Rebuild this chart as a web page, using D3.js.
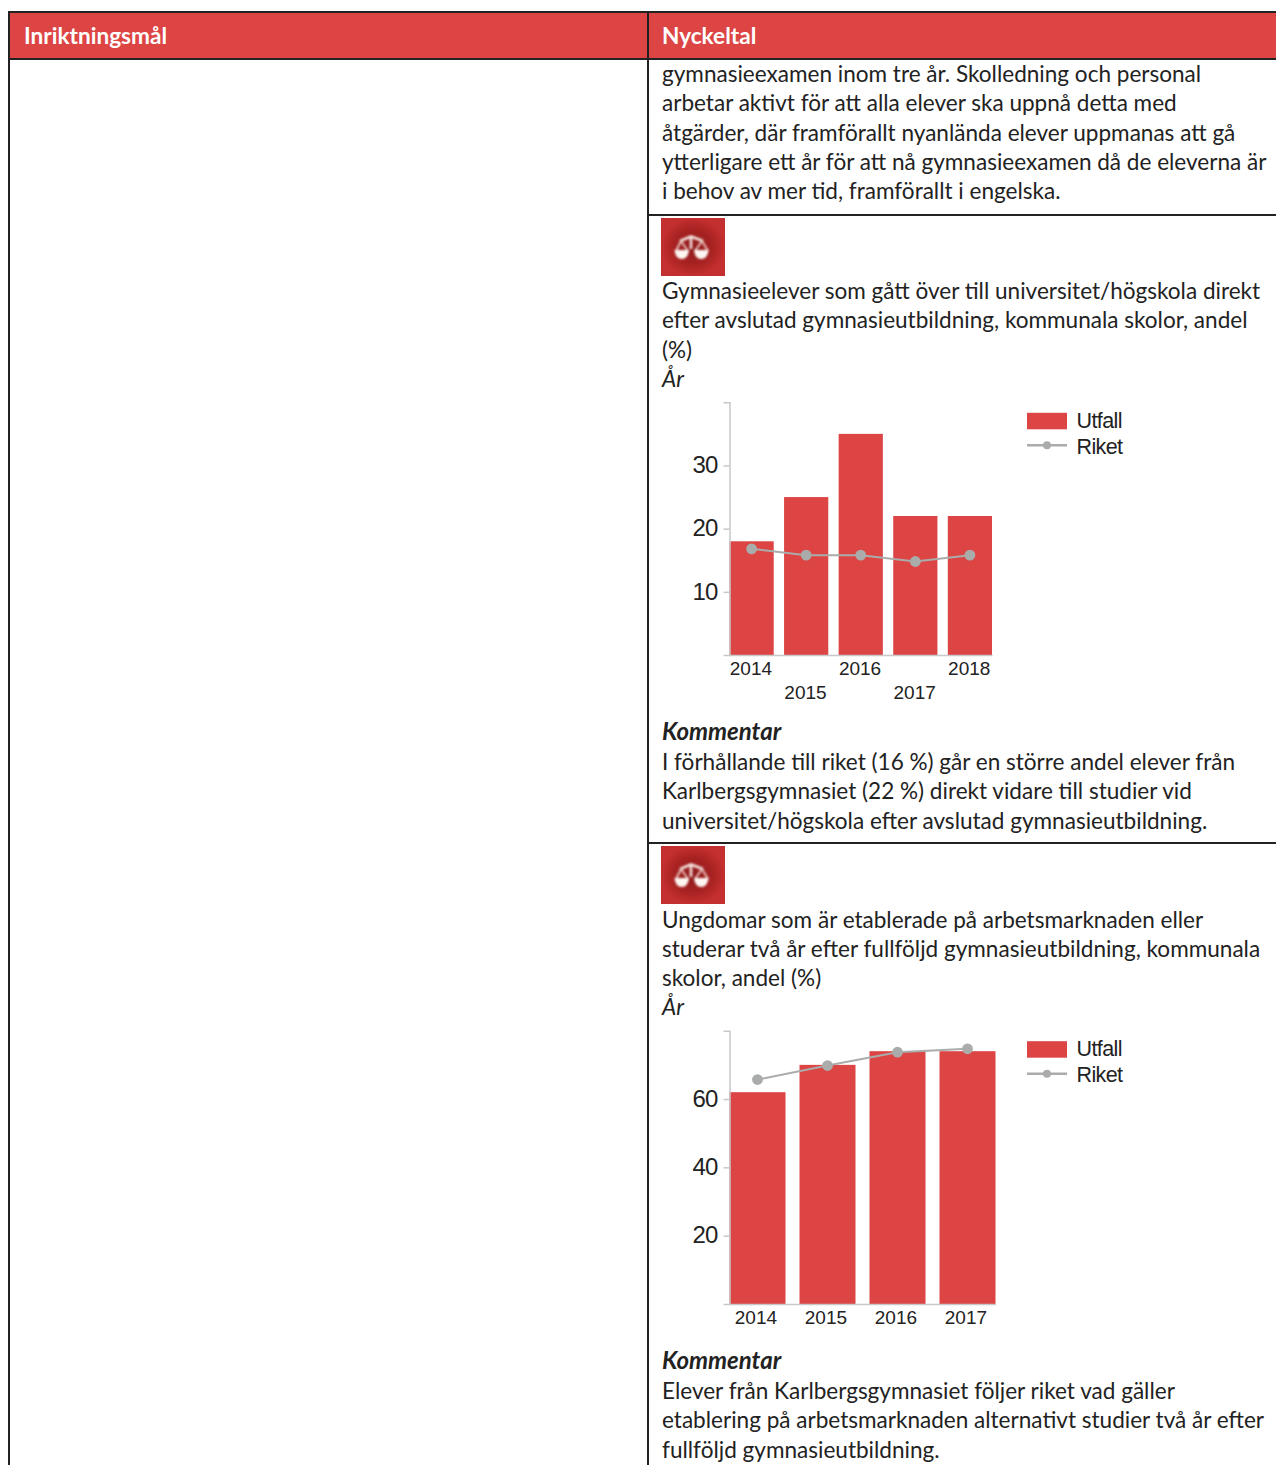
<!DOCTYPE html>
<html>
<head>
<meta charset="utf-8">
<script src="https://cdn.jsdelivr.net/npm/d3@7"></script>
<style>
  html, body { margin: 0; padding: 0; background: #fff; }
  svg { display: block; }
  .body-text { font-family: Lato, sans-serif; font-size: 22.55px; fill: #222; }
  .chart text { font-family: "Liberation Sans", Arial, sans-serif; fill: #222; }
</style>
</head>
<body>
<div id="page"></div>
<script>
// header
const headers = ["Inriktningsmål", "Nyckeltal"];

// text blocks
const introLines = [
    "gymnasieexamen inom tre år. Skolledning och personal",
    "arbetar aktivt för att alla elever ska uppnå detta med",
    "åtgärder, där framförallt nyanlända elever uppmanas att gå",
    "ytterligare ett år för att nå gymnasieexamen då de eleverna är",
    "i behov av mer tid, framförallt i engelska."
];
const title1 = [
    "Gymnasieelever som gått över till universitet/högskola direkt",
    "efter avslutad gymnasieutbildning, kommunala skolor, andel",
    "(%)"
];
const comment1 = [
    "I förhållande till riket (16 %) går en större andel elever från",
    "Karlbergsgymnasiet (22 %) direkt vidare till studier vid",
    "universitet/högskola efter avslutad gymnasieutbildning."
];
const title2 = [
    "Ungdomar som är etablerade på arbetsmarknaden eller",
    "studerar två år efter fullföljd gymnasieutbildning, kommunala",
    "skolor, andel (%)"
];
const comment2 = [
    "Elever från Karlbergsgymnasiet följer riket vad gäller",
    "etablering på arbetsmarknaden alternativt studier två år efter",
    "fullföljd gymnasieutbildning."
];

// chart 1
const years1 = ["2014", "2015", "2016", "2017", "2018"];
const utfall1 = [18, 25, 35, 22, 22];
const riket1 = [16.8, 15.8, 15.8, 14.8, 15.8];
const ticks1 = [10, 20, 30];

// chart 2
const years2 = ["2014", "2015", "2016", "2017"];
const utfall2 = [62, 70, 74, 74];
const riket2 = [65.7, 69.8, 73.7, 74.7];
const ticks2 = [20, 40, 60];

const legendLabels = ["Utfall", "Riket"];

const red = "#dd4444";
const grey = "#a9acaa";
const ink = "#222";

const svg = d3.select("#page")
    .append("svg")
    .attr("width", 1276)
    .attr("height", 1465);

// soft blur for the icon
const defs = svg.append("defs");
defs.append("filter")
    .attr("id", "soft")
    .append("feGaussianBlur")
    .attr("stdDeviation", 0.9);
const grad = defs.append("radialGradient").attr("id", "iconBg");
grad.append("stop").attr("offset", "0%").attr("stop-color", "#8c1a1a");
grad.append("stop").attr("offset", "60%").attr("stop-color", "#a82222");
grad.append("stop").attr("offset", "100%").attr("stop-color", "#c42f2f");

// table frame
svg.append("rect")
    .attr("x", 9).attr("y", 12)
    .attr("width", 1267).attr("height", 47)
    .attr("fill", red);

const rules = [
    [8, 12, 1276, 12], [8, 59, 1276, 59],
    [648, 215, 1276, 215], [648, 843, 1276, 843],
    [9, 12, 9, 1465], [648, 12, 648, 1465]
];
svg.selectAll("line.rule")
    .data(rules)
    .enter()
    .append("line")
    .attr("class", "rule")
    .attr("x1", d => d[0]).attr("y1", d => d[1])
    .attr("x2", d => d[2]).attr("y2", d => d[3])
    .attr("stroke", ink)
    .attr("stroke-width", 2);

svg.selectAll("text.head")
    .data(headers)
    .enter()
    .append("text")
    .attr("class", "head")
    .attr("x", (d, i) => i === 0 ? 24 : 662)
    .attr("y", 44)
    .attr("font-family", "Lato, sans-serif")
    .attr("font-weight", 700)
    .attr("font-size", 22.6)
    .attr("fill", "#fff")
    .text(d => d);

// stacks lines of text from a first baseline
function textBlock(lines, y0, opts = {}) {
    const step = 29.25;
    svg.append("g")
        .selectAll("text")
        .data(lines)
        .enter()
        .append("text")
        .attr("class", "body-text")
        .attr("x", 662)
        .attr("y", (d, i) => y0 + i * step)
        .style("font-style", opts.style || null)
        .style("font-weight", opts.weight || null)
        .style("font-size", opts.size || null)
        .text(d => d);
}

function icon(y) {
    const g = svg.append("g").attr("transform", `translate(661,${y})`);
    g.append("rect").attr("width", 64).attr("height", 58).attr("fill", "url(#iconBg)");
    const s = g.append("g").attr("filter", "url(#soft)");
    // beam and post
    s.append("path")
        .attr("d", "M19 23 L30 18.5 L42 23 M30 18.5 L30 31")
        .attr("fill", "none").attr("stroke", "#f6e4e0").attr("stroke-width", 2.6);
    // hanging strings
    s.append("path")
        .attr("d", "M20 23 L15 33 M20 23 L27 33 M41 23 L34 33 M41 23 L47 33")
        .attr("fill", "none").attr("stroke", "#eec9c2").attr("stroke-width", 1.8);
    // pans
    s.append("path").attr("d", "M13.5 32 H28 A7.2 9 0 0 1 13.5 32 Z").attr("fill", "#fdf6f2");
    s.append("path").attr("d", "M33 32 H47.5 A7.2 9 0 0 1 33 32 Z").attr("fill", "#fdf6f2");
}

function drawChart(cfg) {
    const g = svg.append("g").attr("class", "chart");

    const x = d3.scaleBand()
        .domain(cfg.years)
        .range(cfg.xRange)
        .paddingInner(cfg.gap)
        .paddingOuter(0);

    const y = d3.scaleLinear()
        .domain([0, cfg.yMax])
        .range([cfg.yBase, cfg.yTop]);

    // bars
    g.selectAll("rect.bar")
        .data(cfg.years.map((d, i) => ({ year: d, v: cfg.utfall[i] })))
        .enter()
        .append("rect")
        .attr("class", "bar")
        .attr("x", d => x(d.year))
        .attr("y", d => y(d.v))
        .attr("width", x.bandwidth())
        .attr("height", d => y(0) - y(d.v))
        .attr("fill", red);

    // y axis, the labels only on the inner ticks
    const yAxis = g.append("g")
        .attr("transform", `translate(${cfg.xRange[0]},0)`)
        .call(d3.axisLeft(y).tickValues(cfg.ticks).tickSize(6).tickSizeOuter(6).tickPadding(6));
    yAxis.selectAll("path, line").attr("stroke", "#c8c8c8").attr("stroke-width", 1.5);
    yAxis.selectAll("text")
        .attr("font-size", 24)
        .attr("letter-spacing", -0.8)
        .attr("dy", "0.3em");

    // x axis
    const xAxis = g.append("g")
        .attr("transform", `translate(0,${cfg.yBase})`)
        .call(d3.axisBottom(x).tickSize(0).tickSizeOuter(0).tickPadding(0));
    xAxis.select("path").attr("stroke", "#c8c8c8").attr("stroke-width", 1.5);
    xAxis.selectAll("text")
        .attr("font-size", 19)
        .attr("dy", null)
        .attr("dx", cfg.labelShift)
        .attr("y", (d, i) => cfg.stagger && i % 2 ? 44 : 20);

    // riket line
    const pts = cfg.years.map((d, i) => [x(d) + x.bandwidth() / 2, y(cfg.riket[i])]);
    g.append("path")
        .attr("d", d3.line()(pts))
        .attr("fill", "none")
        .attr("stroke", grey)
        .attr("stroke-width", 2);
    g.selectAll("circle.pt")
        .data(pts)
        .enter()
        .append("circle")
        .attr("class", "pt")
        .attr("cx", d => d[0])
        .attr("cy", d => d[1])
        .attr("r", 5.4)
        .attr("fill", grey);

    // legend
    const legend = g.append("g")
        .attr("transform", `translate(1027,${cfg.yTop})`);
    legend.append("rect")
        .attr("y", 10.5).attr("width", 40).attr("height", 16.5).attr("fill", red);
    legend.append("line")
        .attr("x1", 0).attr("x2", 40).attr("y1", 43).attr("y2", 43)
        .attr("stroke", grey).attr("stroke-width", 2.5);
    legend.append("circle")
        .attr("cx", 20).attr("cy", 43).attr("r", 4).attr("fill", grey);
    legend.selectAll("text")
        .data(legendLabels)
        .enter()
        .append("text")
        .attr("x", 49.5)
        .attr("y", (d, i) => i === 0 ? 25.7 : 51.3)
        .attr("font-size", 21.5)
        .attr("letter-spacing", -0.6)
        .text(d => d);
}

textBlock(introLines, 82.2);

icon(218);
textBlock(title1, 299.1);
textBlock(["År"], 386.8, { style: "italic" });
drawChart({
    years: years1, utfall: utfall1, riket: riket1, ticks: ticks1,
    yMax: 40, yBase: 655, yTop: 402.3, xRange: [729.5, 992], gap: 0.19, stagger: true, labelShift: -0.7
});
textBlock(["Kommentar"], 739.5, { style: "italic", weight: 700, size: "24px" });
textBlock(comment1, 770);

icon(846);
textBlock(title2, 927.8);
textBlock(["År"], 1015.4, { style: "italic" });
drawChart({
    years: years2, utfall: utfall2, riket: riket2, ticks: ticks2,
    yMax: 80, yBase: 1304, yTop: 1030.7, xRange: [729.5, 995.5], gap: 0.2, stagger: false, labelShift: -1.6
});
textBlock(["Kommentar"], 1369, { style: "italic", weight: 700, size: "24px" });
textBlock(comment2, 1399);
</script>
</body>
</html>
